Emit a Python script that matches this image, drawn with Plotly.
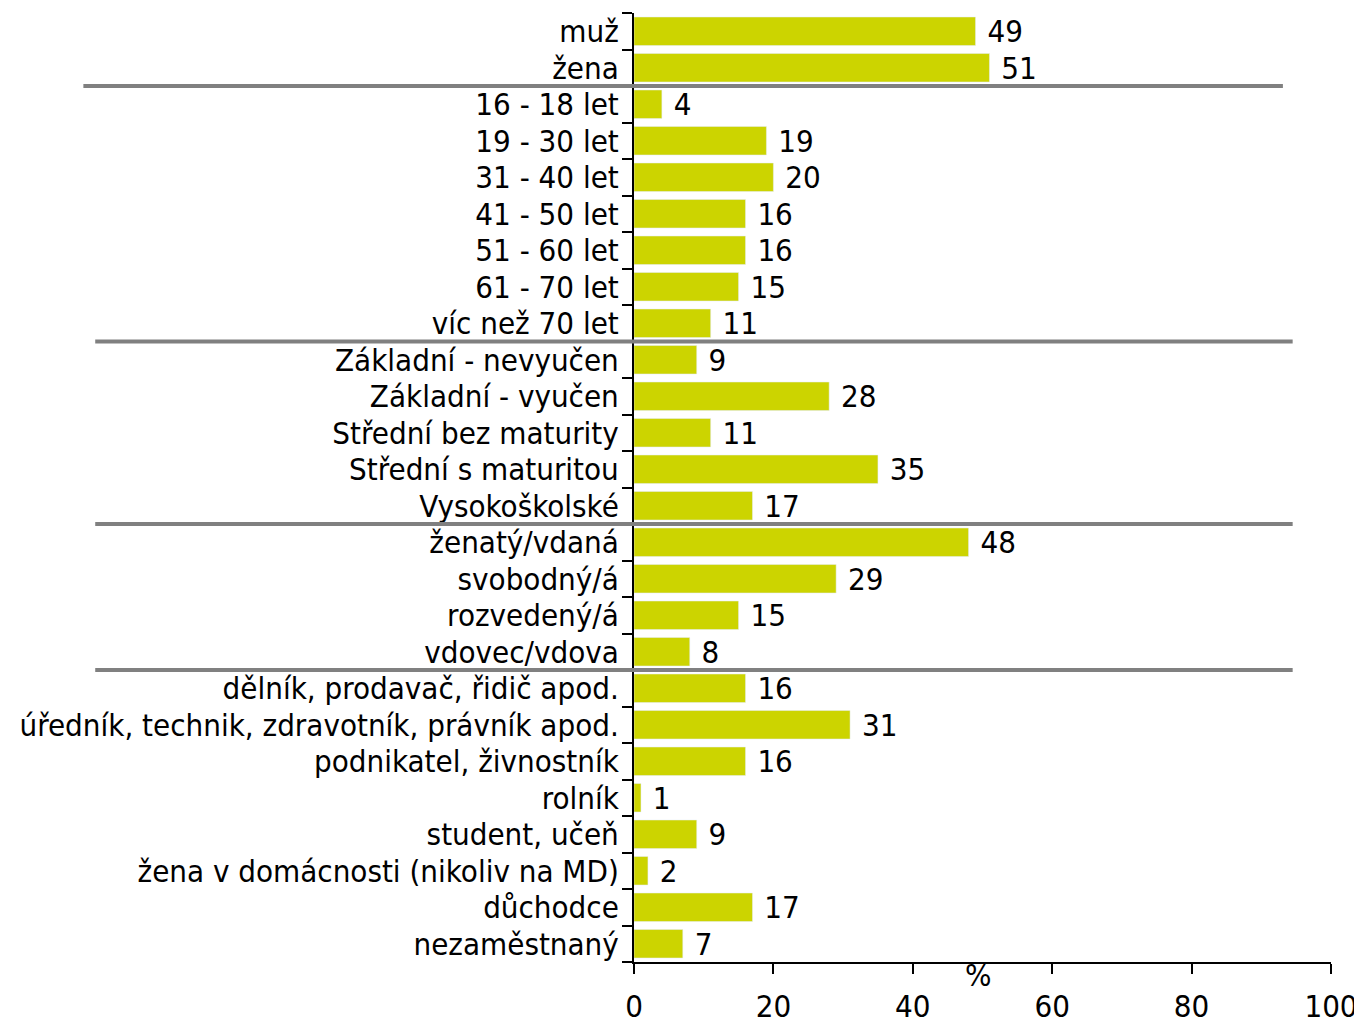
import plotly.graph_objects as go

# ── Data ────────────────────────────────────────────────
categories = [
    "muž", "žena",
    "16 - 18 let", "19 - 30 let", "31 - 40 let", "41 - 50 let",
    "51 - 60 let", "61 - 70 let", "víc než 70 let",
    "Základní - nevyučen", "Základní - vyučen", "Střední bez maturity",
    "Střední s maturitou", "Vysokoškolské",
    "ženatý/vdaná", "svobodný/á", "rozvedený/á", "vdovec/vdova",
    "dělník, prodavač, řidič apod.",
    "úředník, technik, zdravotník, právník apod.",
    "podnikatel, živnostník", "rolník", "student, učeň",
    "žena v domácnosti (nikoliv na MD)", "důchodce", "nezaměstnaný",
]
values = [
    49, 51,
    4, 19, 20, 16, 16, 15, 11,
    9, 28, 11, 35, 17,
    48, 29, 15, 8,
    16, 31, 16, 1, 9, 2, 17, 7,
]
# group separators sit between these category indices
separators = [1.5, 8.5, 13.5, 17.5]
x_ticks = [0, 20, 40, 60, 80, 100]

FONT = "DejaVu Sans Condensed, DejaVu Sans, sans-serif"
FS = 31

fig = go.Figure(
    go.Bar(
        x=values,
        y=categories,
        orientation="h",
        marker_color="#CCD400",
        text=[f" {v}" for v in values],  # leading space = gap after bar
        textposition="outside",
        constraintext="none",
        textfont=dict(size=FS, color="black", family=FONT),
        cliponaxis=False,
        width=0.78,
    )
)

# gray lines between groups
for i, s in enumerate(separators):
    fig.add_shape(
        type="line",
        xref="paper", yref="y",
        x0=-0.79 if i == 0 else -0.773,
        x1=0.931 if i == 0 else 0.945,
        y0=s, y1=s,
        line=dict(color="#808080", width=4),
    )

fig.add_annotation(
    text="%", x=0.494, y=0.007, xref="paper", yref="paper",
    xanchor="center", yanchor="top", showarrow=False,
    font=dict(size=FS, color="black", family=FONT),
)

# page body has an 8px margin, so the figure is sized/offset to compensate
fig.update_layout(
    width=1354, height=1015,
    margin=dict(l=626, r=31, t=5, b=61),
    paper_bgcolor="white",
    plot_bgcolor="white",
    font=dict(family=FONT, size=FS, color="black"),
    showlegend=False,
    xaxis=dict(
        range=[0, 100],
        tickvals=x_ticks,
        showgrid=False,
        zeroline=False,
        automargin=False,
        showline=True, linecolor="black", linewidth=2,
        ticks="outside", ticklen=10, tickwidth=2, tickcolor="black",
        ticklabelstandoff=6,
        tickfont=dict(size=FS),
    ),
    yaxis=dict(
        autorange="reversed",
        tickmode="array",
        tickvals=categories,
        ticktext=categories,
        showgrid=False,
        automargin=False,
        showline=True, linecolor="black", linewidth=2,
        ticks="outside", ticklen=10, tickwidth=2, tickcolor="black",
        tickson="boundaries",
        ticklabelstandoff=7,
        tickfont=dict(size=FS),
    ),
)

fig.write_html("out.html")
